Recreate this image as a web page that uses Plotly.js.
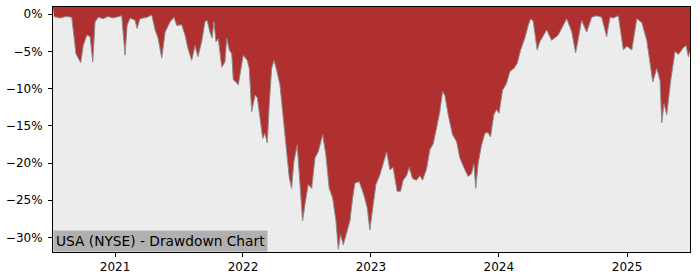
<!DOCTYPE html>
<html>
<head>
<meta charset="utf-8">
<script src="https://cdn.plot.ly/plotly-3.0.1.min.js"></script>
<style>html,body{margin:0;padding:0;background:#fff;}#chart{width:700px;height:280px;}</style>
</head>
<body>
<div id="chart"></div>
<script>
// Drawdown: dates as decimal years, values in percent
const ddYears = [
  2020.523, 2020.570, 2020.617, 2020.662, 2020.695, 2020.732, 2020.752, 2020.779, 2020.805, 2020.826,
  2020.844, 2020.870, 2020.906, 2020.945, 2020.984, 2021.023, 2021.052, 2021.078, 2021.094, 2021.117,
  2021.156, 2021.172, 2021.195, 2021.250, 2021.287, 2021.313, 2021.336, 2021.365, 2021.391, 2021.430,
  2021.461, 2021.482, 2021.521, 2021.547, 2021.570, 2021.599, 2021.625, 2021.648, 2021.677, 2021.703,
  2021.719, 2021.742, 2021.758, 2021.773, 2021.789, 2021.807, 2021.834, 2021.859, 2021.873, 2021.893,
  2021.912, 2021.924, 2021.945, 2021.963, 2021.982, 2022.002, 2022.034, 2022.049, 2022.068, 2022.094,
  2022.112, 2022.133, 2022.154, 2022.172, 2022.190, 2022.205, 2022.224, 2022.242, 2022.263, 2022.289,
  2022.310, 2022.336, 2022.362, 2022.380, 2022.398, 2022.424, 2022.440, 2022.466, 2022.484, 2022.510,
  2022.537, 2022.563, 2022.588, 2022.623, 2022.648, 2022.674, 2022.701, 2022.727, 2022.745, 2022.763,
  2022.784, 2022.810, 2022.836, 2022.857, 2022.875, 2022.909, 2022.945, 2022.971, 2022.992, 2023.018,
  2023.039, 2023.070, 2023.096, 2023.123, 2023.148, 2023.174, 2023.205, 2023.232, 2023.252, 2023.279,
  2023.299, 2023.326, 2023.357, 2023.383, 2023.404, 2023.435, 2023.461, 2023.487, 2023.513, 2023.539,
  2023.560, 2023.578, 2023.604, 2023.638, 2023.670, 2023.695, 2023.727, 2023.760, 2023.787, 2023.805,
  2023.820, 2023.838, 2023.865, 2023.891, 2023.916, 2023.935, 2023.961, 2023.982, 2024.002, 2024.029,
  2024.060, 2024.086, 2024.117, 2024.143, 2024.170, 2024.203, 2024.229, 2024.248, 2024.268, 2024.299,
  2024.320, 2024.373, 2024.412, 2024.463, 2024.529, 2024.568, 2024.599, 2024.646, 2024.685, 2024.724,
  2024.763, 2024.802, 2024.841, 2024.867, 2024.893, 2024.932, 2024.971, 2024.998, 2025.037, 2025.076,
  2025.115, 2025.154, 2025.201, 2025.232, 2025.258, 2025.271, 2025.289, 2025.310, 2025.341, 2025.375,
  2025.401, 2025.440, 2025.461, 2025.479, 2025.492
];
const ddValues = [
  -0.3, -0.5, -0.3, -0.4, -5.3, -6.5, -4.2, -2.8, -3.0, -6.4,
  -1.0, -0.4, -0.6, -0.3, -0.5, -0.3, -0.2, -5.5, -1.5, -0.5,
  -0.8, -1.9, -0.6, -0.4, -0.1, -2.1, -3.2, -5.9, -2.4, -1.0,
  -0.4, -1.5, -1.4, -2.8, -4.6, -6.2, -4.2, -5.7, -3.7, -1.0,
  -0.8, -2.4, -3.2, -1.0, -3.7, -3.3, -7.1, -6.4, -3.2, -4.8,
  -5.3, -8.8, -9.1, -9.5, -7.5, -5.5, -6.2, -7.3, -13.1, -10.9,
  -11.2, -13.8, -16.7, -16.0, -17.3, -12.2, -7.3, -6.2, -7.5, -9.5,
  -13.1, -16.7, -22.0, -23.4, -19.8, -17.6, -21.1, -27.8, -25.6, -22.9,
  -23.4, -19.3, -18.5, -16.2, -18.9, -23.4, -24.7, -27.8, -31.6, -29.6,
  -31.0, -29.2, -27.8, -24.7, -22.7, -22.5, -24.3, -26.0, -29.0, -25.6,
  -22.9, -21.6, -19.9, -18.5, -20.9, -20.6, -23.8, -23.8, -22.3, -21.7,
  -20.6, -22.1, -22.3, -21.7, -22.3, -20.8, -18.2, -17.4, -15.3, -13.1,
  -10.4, -10.9, -13.5, -16.2, -17.1, -19.3, -20.6, -21.8, -21.4, -20.1,
  -23.4, -20.1, -17.6, -16.0, -15.9, -16.5, -13.5, -12.8, -13.3, -10.2,
  -9.3, -7.7, -7.3, -6.6, -4.8, -3.2, -1.5, -0.6, -0.9, -4.8,
  -3.7, -2.1, -3.5, -2.8, -0.6, -2.3, -5.2, -0.8, -2.4, -0.4,
  -0.2, -0.4, -3.0, -0.4, -0.5, -0.2, -4.8, -4.3, -4.8, -0.6,
  -1.1, -3.5, -9.1, -7.3, -8.9, -14.6, -12.0, -13.5, -8.9, -5.0,
  -5.4, -4.5, -4.2, -5.7, -5.0
];
const yTickVals = [0, -5, -10, -15, -20, -25, -30];
const yTickLabels = ["0%", "\u22125%", "\u221210%", "\u221215%", "\u221220%", "\u221225%", "\u221230%"];
const xTickYears = [2021, 2022, 2023, 2024, 2025];
const xTickLabels = ["2021", "2022", "2023", "2024", "2025"];
const chartLabel = "USA (NYSE) - Drawdown Chart";
const yMin = -31.96, yMax = 0.98;
const xStartYear = 2020.516, xEndYear = 2025.492;

function yearToDate(y) {
  const yr = Math.floor(y);
  const start = Date.UTC(yr, 0, 1), end = Date.UTC(yr + 1, 0, 1);
  const t = start + (y - yr) * (end - start);
  return new Date(t).toISOString().slice(0, 19).replace('T', ' ');
}
const xDates = ddYears.map(yearToDate);
const xStart = yearToDate(xStartYear), xEnd = yearToDate(xEndYear);

const traces = [
  { x: [xStart, xEnd], y: [yMax, yMax], mode: 'lines', line: { width: 0 }, hoverinfo: 'skip', showlegend: false },
  { x: xDates, y: ddValues, mode: 'lines', fill: 'tonexty', fillcolor: '#b03030',
    line: { color: '#8c8c8c', width: 1 }, showlegend: false }
];

const font = { family: 'DejaVu Sans, sans-serif', size: 12, color: '#000' };
const layout = {
  width: 700, height: 280,
  margin: { l: 53, r: 10, t: 7, b: 28, pad: 0 },
  paper_bgcolor: '#ffffff', plot_bgcolor: '#ececec',
  font: font,
  showlegend: false,
  xaxis: {
    type: 'date', range: [xStart, xEnd],
    tickmode: 'array', tickvals: xTickYears.map(yearToDate), ticktext: xTickLabels,
    ticks: 'outside', ticklen: 4, tickwidth: 1, tickcolor: '#000',
    showgrid: false, zeroline: false,
    showline: true, mirror: true, linecolor: '#000', linewidth: 1,
    tickfont: font
  },
  yaxis: {
    range: [yMin, yMax],
    tickmode: 'array', tickvals: yTickVals, ticktext: yTickLabels,
    ticks: 'outside', ticklen: 4, tickwidth: 1, tickcolor: '#000',
    ticklabelstandoff: 3,
    showgrid: false, zeroline: false,
    showline: true, mirror: true, linecolor: '#000', linewidth: 1,
    tickfont: font
  },
  annotations: [{
    text: chartLabel, xref: 'paper', yref: 'paper', x: 0, y: 0,
    xanchor: 'left', yanchor: 'bottom', showarrow: false,
    bgcolor: '#b0b0b0', borderpad: 2,
    font: { family: 'DejaVu Sans, sans-serif', size: 13.75, color: '#000' }
  }]
};

Plotly.newPlot('chart', traces, layout, { staticPlot: true, displayModeBar: false });
</script>
</body>
</html>
